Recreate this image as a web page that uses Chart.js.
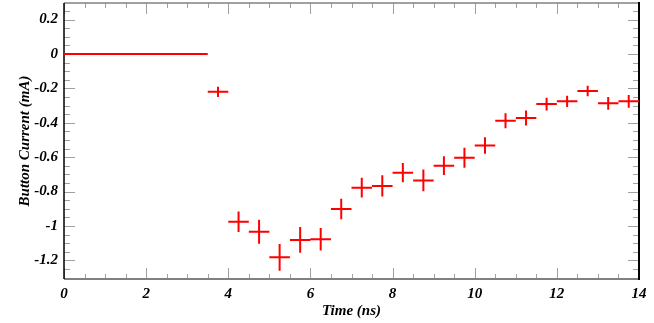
<!DOCTYPE html>
<html>
<head>
<meta charset="utf-8">
<script src="https://cdn.jsdelivr.net/npm/chart.js@4"></script>
<style>
  body { margin: 0; background: #fff; }
  #wrap { width: 654px; height: 323px; }
</style>
</head>
<body>
<div id="wrap"><canvas id="currentChart"></canvas></div>
<script>
// Bin centres (ns), bin half width, measured current and its error (mA)
const binCenters = [0.25, 0.75, 1.25, 1.75, 2.25, 2.75, 3.25, 3.75, 4.25, 4.75,
    5.25, 5.75, 6.25, 6.75, 7.25, 7.75, 8.25, 8.75, 9.25, 9.75,
    10.25, 10.75, 11.25, 11.75, 12.25, 12.75, 13.25, 13.75];
const binHalfWidth = 0.25;
const current = [0, 0, 0, 0, 0, 0, 0, -0.22, -0.975, -1.033,
    -1.182, -1.081, -1.077, -0.901, -0.777, -0.767, -0.69, -0.735, -0.649, -0.603,
    -0.532, -0.388, -0.372, -0.291, -0.275, -0.215, -0.287, -0.275];
const currentErr = [0, 0, 0, 0, 0, 0, 0, 0.03, 0.06, 0.07,
    0.078, 0.075, 0.065, 0.06, 0.057, 0.062, 0.056, 0.063, 0.055, 0.058,
    0.048, 0.043, 0.043, 0.037, 0.033, 0.031, 0.037, 0.037];

const xTicks = [0, 2, 4, 6, 8, 10, 12, 14];
const yTicks = [-1.2, -1, -0.8, -0.6, -0.4, -0.2, 0, 0.2];
const yTickLabels = ['-1.2', '-1', '-0.8', '-0.6', '-0.4', '-0.2', '0', '0.2'];

const labelFont = { family: 'Liberation Serif', size: 15, style: 'italic', weight: 'bold' };

// frame + ROOT style inner ticks (drawn under the data)
const framePlugin = {
    id: 'frame',
    beforeDatasetsDraw(chart) {
        const { ctx, chartArea: a, scales: { x, y } } = chart;
        ctx.save();
        ctx.strokeStyle = '#a0a0a0';
        ctx.lineWidth = 1;
        ctx.beginPath();
        for (let v = 0; v <= 14.001; v += 0.5) {
            const px = Math.round(x.getPixelForValue(v)) + 0.5;
            const len = Math.abs(v / 2 - Math.round(v / 2)) < 1e-6 ? 11 : 5;
            ctx.moveTo(px, a.bottom); ctx.lineTo(px, a.bottom - len);
            ctx.moveTo(px, a.top); ctx.lineTo(px, a.top + len);
        }
        for (let v = -1.3; v <= 0.3; v += 0.05) {
            const val = Math.round(v * 100) / 100;
            if (val < y.min || val > y.max) continue;
            const py = Math.round(y.getPixelForValue(val)) + 0.5;
            const len = Math.abs(val / 0.2 - Math.round(val / 0.2)) < 1e-6 ? 11 : 6;
            ctx.moveTo(a.left, py); ctx.lineTo(a.left + len, py);
            ctx.moveTo(a.right, py); ctx.lineTo(a.right - len, py);
        }
        ctx.stroke();

        ctx.strokeStyle = '#808080';
        ctx.lineWidth = 2;
        ctx.beginPath();
        ctx.moveTo(a.left, a.bottom); ctx.lineTo(a.right, a.bottom);
        ctx.stroke();
        ctx.lineWidth = 1.5;
        ctx.beginPath();
        ctx.moveTo(a.left, a.top); ctx.lineTo(a.right, a.top);
        ctx.stroke();

        ctx.strokeStyle = '#000';
        ctx.lineWidth = 1.5;
        ctx.beginPath();
        ctx.moveTo(a.left, a.top); ctx.lineTo(a.left, a.bottom);
        ctx.stroke();
        ctx.lineWidth = 2;
        ctx.beginPath();
        ctx.moveTo(a.right, a.top - 1); ctx.lineTo(a.right, a.bottom + 1);
        ctx.stroke();
        ctx.restore();
    }
};

// error bars (bin width horizontally, error vertically)
const errorBarPlugin = {
    id: 'errorBars',
    afterDatasetsDraw(chart) {
        const { ctx, scales: { x, y } } = chart;
        ctx.save();
        ctx.strokeStyle = '#ff0000';
        ctx.lineWidth = 2;
        ctx.beginPath();
        binCenters.forEach((c, i) => {
            const py = y.getPixelForValue(current[i]);
            ctx.moveTo(x.getPixelForValue(c - binHalfWidth), py);
            ctx.lineTo(x.getPixelForValue(c + binHalfWidth), py);
            if (currentErr[i] > 0) {
                const px = x.getPixelForValue(c);
                ctx.moveTo(px, y.getPixelForValue(current[i] + currentErr[i]));
                ctx.lineTo(px, y.getPixelForValue(current[i] - currentErr[i]));
            }
        });
        ctx.stroke();
        ctx.restore();
    }
};

const ctx = document.getElementById('currentChart').getContext('2d');
const chart = new Chart(ctx, {
    type: 'scatter',
    data: {
        datasets: [{
            label: 'Button Current',
            data: binCenters.map((c, i) => ({ x: c, y: current[i] })),
            pointRadius: 0,
            showLine: false
        }]
    },
    options: {
        responsive: true,
        maintainAspectRatio: false,
        animation: false,
        layout: { padding: { top: 3, right: 15, left: 0, bottom: 0 } },
        plugins: {
            legend: { display: false },
            tooltip: { enabled: false }
        },
        scales: {
            x: {
                type: 'linear',
                min: 0,
                max: 14,
                grid: { display: false, drawTicks: false },
                border: { display: false },
                afterBuildTicks: function(scale) {
                    scale.ticks = xTicks.map(v => ({ value: v }));
                },
                afterFit: function(scale) {
                    scale.height = 44;
                    scale.paddingLeft = 0;
                    scale.paddingRight = 0;
                },
                ticks: {
                    padding: 6,
                    color: '#000',
                    font: labelFont,
                    maxRotation: 0,
                    callback: function(value) { return String(value); }
                },
                title: {
                    display: true,
                    text: 'Time (ns)',
                    color: '#000',
                    font: labelFont,
                    padding: { top: 0, bottom: 3 }
                }
            },
            y: {
                type: 'linear',
                min: -1.308,
                max: 0.2965,
                grid: { display: false, drawTicks: false },
                border: { display: false },
                afterBuildTicks: function(scale) {
                    scale.ticks = yTicks.map(v => ({ value: v }));
                },
                afterFit: function(scale) {
                    scale.width = 64;
                    scale.paddingTop = 0;
                    scale.paddingBottom = 0;
                },
                ticks: {
                    padding: 6,
                    color: '#000',
                    font: labelFont,
                    callback: function(value, index) { return yTickLabels[index]; }
                },
                title: {
                    display: true,
                    text: 'Button Current (mA)',
                    color: '#000',
                    font: labelFont,
                    padding: { top: 16, bottom: 0 }
                }
            }
        }
    },
    plugins: [framePlugin, errorBarPlugin]
});
</script>
</body>
</html>
